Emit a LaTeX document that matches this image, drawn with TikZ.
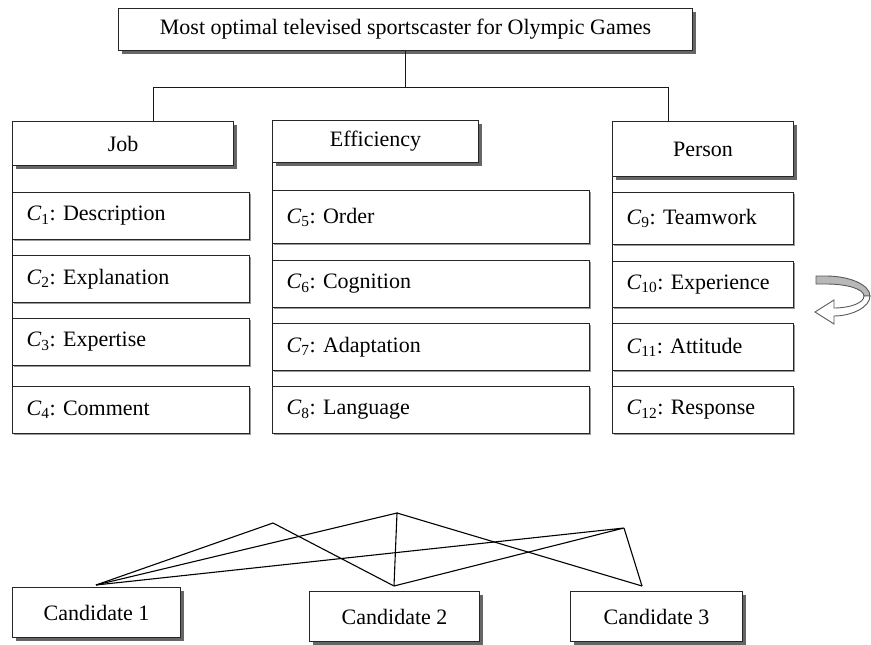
\documentclass[tikz,border=0pt]{standalone}
\usepackage{fontspec}
\setmainfont{Liberation Serif}
\usetikzlibrary{shadows}
\tikzset{
  base/.style={draw=black!85, line width=1.1pt, fill=white, font=\fontsize{22}{26}\selectfont\frenchspacing, inner ysep=0pt, anchor=north west},
  head/.style={base, align=center, drop shadow={shadow xshift=3pt, shadow yshift=-3pt, fill=black!60, opacity=1}},
  cbox/.style={base, inner xsep=14pt, align=left, drop shadow={shadow xshift=1pt, shadow yshift=-1.2pt, fill=black!40, opacity=1}},
  link/.style={draw=black!90, line width=1pt},
  web/.style={draw=black, line width=1.1pt, line join=miter},
}
\newcommand\crit[2]{\textit{C}\textsubscript{#1}:\ #2}
\begin{document}
\begin{tikzpicture}[x=1pt,y=-1pt]
\useasboundingbox (0,0) rectangle (871,645);

% goal
\node[head, minimum width=574pt, minimum height=42pt] (goal) at (118,8) {Most optimal televised sportscaster for Olympic Games};

% headers
\node[head, minimum width=221pt, minimum height=44pt] (job) at (12,121) {Job};
\node[head, minimum width=206pt, minimum height=42pt] (eff) at (272,120) {Efficiency};
\node[head, minimum width=181pt, minimum height=55pt] (per) at (612,121) {Person};

% Job criteria
\node[cbox, text width=209pt, minimum height=47pt] (c1) at (12,192) {\crit{1}{Description}};
\node[cbox, text width=209pt, minimum height=47pt] (c2) at (12,255) {\crit{2}{Explanation}};
\node[cbox, text width=209pt, minimum height=47pt] (c3) at (12,318) {\crit{3}{Expertise}};
\node[cbox, text width=209pt, minimum height=47pt] (c4) at (12,386) {\crit{4}{Comment}};

% Efficiency criteria
\node[cbox, text width=289pt, minimum height=53pt] (c5) at (272,190) {\crit{5}{Order}};
\node[cbox, text width=289pt, minimum height=47pt] (c6) at (272,260) {\crit{6}{Cognition}};
\node[cbox, text width=289pt, minimum height=47pt] (c7) at (272,323) {\crit{7}{Adaptation}};
\node[cbox, text width=289pt, minimum height=47pt] (c8) at (272,386) {\crit{8}{Language}};

% Person criteria
\node[cbox, text width=153pt, minimum height=52pt] (c9) at (612,192) {\crit{9}{Teamwork}};
\node[cbox, text width=153pt, minimum height=46pt] (c10) at (612,261) {\crit{10}{Experience}};
\node[cbox, text width=153pt, minimum height=47pt] (c11) at (612,323) {\crit{11}{Attitude}};
\node[cbox, text width=153pt, minimum height=47pt] (c12) at (612,386) {\crit{12}{Response}};

% tree connectors
\coordinate (jtop) at (153,121);
\coordinate (ptop) at (668,121);
\coordinate (barL) at (153,87);
\coordinate (barR) at (668,87);
\draw[link] (jtop) -- (barL) -- (barR) -- (ptop);
\draw[link] (goal.south) -- (goal.south |- barL);

% spines
\draw[link] (job.south west) -- (c4.north west);
\draw[link] (eff.south west) -- (c8.north west);
\draw[link] (per.south west) -- (c12.north west);

% candidates
\node[head, minimum width=168pt, minimum height=50pt] (cand1) at (12,587) {Candidate 1};
\node[head, minimum width=170pt, minimum height=50pt] (cand2) at (309,591) {Candidate 2};
\node[head, minimum width=172pt, minimum height=50pt] (cand3) at (570,591) {Candidate 3};

\coordinate (a1) at (96,585);
\coordinate (a2) at (394,586);
\coordinate (a3) at (642,586);
\coordinate (p1) at (273,523);
\coordinate (p2) at (397,513);
\coordinate (p3) at (624,528);
\draw[web] (a1) -- (p1) -- (a2);
\draw[web] (a1) -- (p2) -- (a2);
\draw[web] (p2) -- (a3);
\draw[web] (a1) -- (p3) -- (a2);
\draw[web] (p3) -- (a3);

% curved arrow
\filldraw[fill=black!28, draw=black!65, line width=0.9pt]
  (816,276) -- (826,276) .. controls (850,276) and (870,285) .. (870,296)
  -- (864,296) .. controls (864,289) and (847,284) .. (826,284) -- (816,284) -- cycle;
\filldraw[fill=white, draw=black!65, line width=0.9pt]
  (870,296) .. controls (870,307) and (852,316) .. (834,316) -- (834,324) -- (815,312)
  -- (834,300) -- (834,308) .. controls (850,308) and (864,303) .. (864,296) -- cycle;
\end{tikzpicture}
\end{document}
